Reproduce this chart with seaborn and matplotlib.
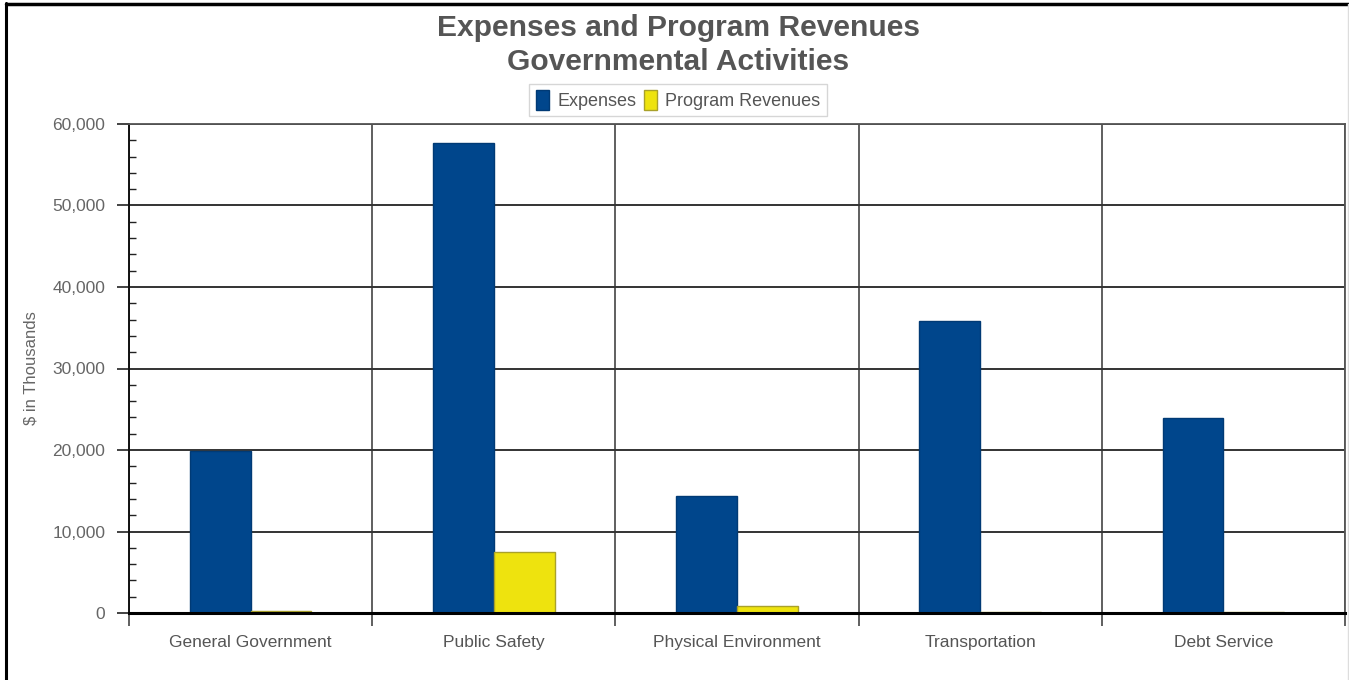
import matplotlib
matplotlib.use("Agg")
import matplotlib.pyplot as plt
import seaborn as sns
import pandas as pd
import numpy as np
from matplotlib.patches import Patch
from matplotlib.lines import Line2D
from matplotlib.ticker import MultipleLocator, FuncFormatter, FixedLocator

categories = ["General Government", "Public Safety", "Physical Environment",
              "Transportation", "Debt Service"]
expenses = [19900, 57700, 14350, 35850, 23900]
program_revenues = [250, 7500, 850, 120, 120]
series_names = ["Expenses", "Program Revenues"]
y_ticks = [0, 10000, 20000, 30000, 40000, 50000, 60000]

colors = {"Expenses": "#00468C", "Program Revenues": "#EEE30E"}
edges = {"Expenses": "#003A75", "Program Revenues": "#A9A12A"}

df = pd.DataFrame({
    "category": categories * 2,
    "series": [series_names[0]] * len(categories) + [series_names[1]] * len(categories),
    "value": expenses + program_revenues,
})

sns.set_theme(style="white")
plt.rcParams['font.family'] = ['Liberation Sans', 'DejaVu Sans']

W, H = 1349, 680
fig = plt.figure(figsize=(W / 100, H / 100), dpi=100)
ax = fig.add_axes([129 / W, (H - 613) / H, (1345 - 129) / W, (613 - 124) / H])

sns.barplot(data=df, x="category", y="value", hue="series", order=categories,
            hue_order=series_names, palette=colors, width=0.5, ax=ax,
            legend=False, saturation=1)

for i, bar in enumerate(ax.patches):
    s = series_names[0] if i < len(categories) else series_names[1]
    bar.set_edgecolor(edges[s])
    bar.set_linewidth(1.0)
    bar.set_zorder(3)

ax.set_ylim(0, 60000)
ax.set_xlim(-0.5, len(categories) - 0.5)

ax.yaxis.set_major_locator(FixedLocator(y_ticks))
ax.yaxis.set_minor_locator(MultipleLocator(2000))
ax.yaxis.set_major_formatter(FuncFormatter(lambda v, p: f"{int(v):,}"))
ax.tick_params(axis="y", which="major", direction="out", length=9, width=1.2,
               color="#222222", labelsize=12.5, labelcolor="#666666", pad=8, left=True)
ax.tick_params(axis="y", which="minor", direction="in", length=5, width=1.0,
               color="#222222", left=True)

ax.set_xticks(range(len(categories)))
ax.set_xticklabels(categories)
ax.xaxis.set_minor_locator(FixedLocator(np.arange(-0.5, len(categories), 1.0)))
ax.tick_params(axis="x", which="major", length=0, labelsize=12.5,
               labelcolor="#555555", pad=16)
ax.tick_params(axis="x", which="minor", direction="out", length=9, width=1.2,
               color="#444444", bottom=True)

ax.grid(axis="y", which="major", color="#333333", linewidth=1.4, zorder=1)
ax.grid(axis="x", which="minor", color="#444444", linewidth=1.2, zorder=1)
ax.set_axisbelow(True)

for side in ["top", "right"]:
    ax.spines[side].set_visible(True)
    ax.spines[side].set_color("#555555")
    ax.spines[side].set_linewidth(1.3)
ax.spines["left"].set_color("#111111")
ax.spines["left"].set_linewidth(1.4)
ax.spines["bottom"].set_color("#000000")
ax.spines["bottom"].set_linewidth(2.2)
ax.spines["bottom"].set_zorder(5)

ax.set_xlabel("")
ax.set_ylabel("$ in Thousands", fontsize=12, color="#666666", labelpad=10)

fig.text(678 / W, 1 - 28 / H, "Expenses and Program Revenues", ha="center", va="center",
         fontsize=21.6, fontweight="bold", color="#555555")
fig.text(678 / W, 1 - 62 / H, "Governmental Activities", ha="center", va="center",
         fontsize=21.6, fontweight="bold", color="#555555")

handles = [Patch(facecolor=colors[s], edgecolor=edges[s], label=s) for s in series_names]
leg = fig.legend(handles=handles, loc="center", bbox_to_anchor=(678 / W, 1 - 100 / H),
                 ncol=2, frameon=True, fontsize=13, handlelength=0.75, handleheight=1.3,
                 handletextpad=0.45, columnspacing=0.4, borderpad=0.35, fancybox=False)
leg.get_frame().set_edgecolor("#CCCCCC")
leg.get_frame().set_linewidth(1.0)
for t in leg.get_texts():
    t.set_color("#555555")

# screenshot frame
fig.add_artist(Line2D([6 / W, 6 / W], [0, 1 - 3 / H], color="black", linewidth=2.2,
                      transform=fig.transFigure))
fig.add_artist(Line2D([6 / W, 1], [1 - 3.5 / H, 1 - 3.5 / H], color="black", linewidth=2.5,
                      transform=fig.transFigure))
fig.add_artist(Line2D([1348 / W, 1348 / W], [0, 1 - 4 / H], color="#DDDDDD", linewidth=1.0,
                      transform=fig.transFigure))

fig.savefig("out.png", dpi=100, facecolor="white")
